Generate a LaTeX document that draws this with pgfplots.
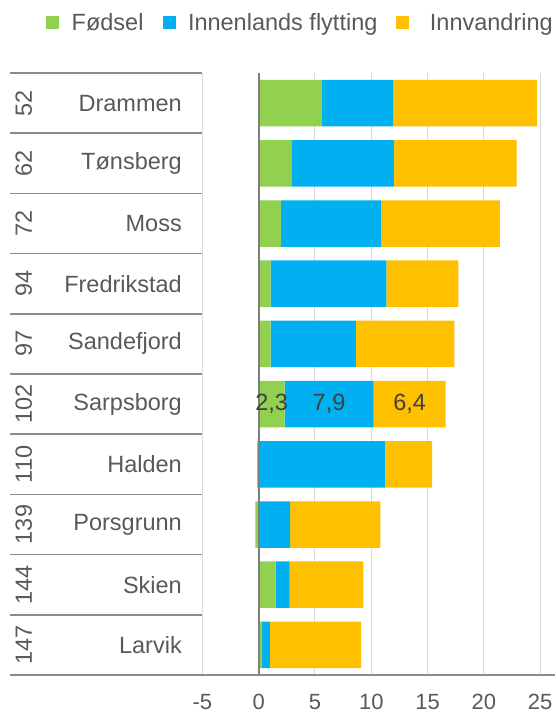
\documentclass[border=0pt]{standalone}
\usepackage{fontspec}
\setmainfont{Liberation Sans}
\usepackage{pgfplots}
\pgfplotsset{compat=1.18}
\definecolor{cgreen}{HTML}{92D050}
\definecolor{cblue}{HTML}{00B0F0}
\definecolor{cyellow}{HTML}{FFC000}
\definecolor{ctext}{HTML}{595959}
\definecolor{clabel}{HTML}{404040}
\definecolor{cgrid}{HTML}{D9D9D9}
\definecolor{cline}{HTML}{8C8C8C}
\definecolor{caxis}{HTML}{7F7F7F}
\begin{document}
\begin{tikzpicture}[font=\fontsize{23.5}{28}\selectfont, text=ctext]
\path[use as bounding box] (0,0) rectangle (555pt,713pt);
\begin{axis}[
  at={(202.4pt,38pt)}, anchor=south west,
  scale only axis, width=337.8pt, height=602pt,
  xmin=-5, xmax=25, ymin=-0.5, ymax=9.5, y dir=reverse,
  xbar stacked, bar width=46.5pt,
  xtick={-5,0,5,10,15,20,25},
  xticklabels={-5,0,5,10,15,20,25},
  ytick={0,1,2,3,4,5,6,7,8,9},
  yticklabels={Drammen,Tønsberg,Moss,Fredrikstad,Sandefjord,Sarpsborg,Halden,Porsgrunn,Skien,Larvik},
  xmajorgrids, grid style={cgrid, line width=1pt},
  axis line style={draw=none}, major tick style={draw=none},
  yticklabel style={font=\fontsize{23.5}{28}\selectfont, text=ctext, anchor=east, inner sep=0pt, xshift=-20.4pt},
  xticklabel style={font=\fontsize{22}{26}\selectfont, text=ctext, anchor=north, inner sep=0pt, yshift=-19pt},
  clip=false,
  legend columns=3,
  legend style={at={(-0.463,1.0839)}, anchor=west, draw=none, fill=none,
    inner sep=0pt, font=\fontsize{23.5}{28}\selectfont, text=ctext,
    /tikz/every odd column/.append style={column sep=12.5pt},
    /tikz/every even column/.append style={column sep=19pt},
    nodes={inner sep=0pt}},
  legend image code/.code={\fill[#1,draw=none] (0pt,-6.5pt) rectangle (13pt,6.5pt);},
]
\addplot[fill=cgreen, draw=none] coordinates {(5.6,0) (2.9,1) (1.96,2) (1.07,3) (1.07,4) (2.3,5) (-0.15,6) (-0.3,7) (1.5,8) (0.3,9)};
\addplot[fill=cblue, draw=none] coordinates {(6.35,0) (9.1,1) (8.9,2) (10.28,3) (7.56,4) (7.9,5) (11.2,6) (2.8,7) (1.25,8) (0.7,9)};
\addplot[fill=cyellow, draw=none] coordinates {(12.77,0) (10.9,1) (10.55,2) (6.38,3) (8.75,4) (6.4,5) (4.2,6) (8.0,7) (6.55,8) (8.1,9)};
\legend{Fødsel, Innenlands flytting, \hspace{8pt}Innvandring}
\coordinate (z0) at (axis cs:0,-0.5);
\coordinate (z1) at (axis cs:0,9.5);
\coordinate (la) at (axis cs:1.15,5);
\coordinate (lb) at (axis cs:6.25,5);
\coordinate (lc) at (axis cs:13.4,5);
% table row separators
\pgfplotsinvokeforeach{-0.5,0.5,1.5,2.5,3.5,4.5,5.5,6.5,7.5,8.5}{
  \draw[cline, line width=1.5pt] (axis cs:-22.1,#1) -- (axis cs:-5,#1);
}
\draw[cline, line width=1.5pt] (axis cs:-22.1,9.5) -- (axis cs:26.35,9.5);
% rank numbers
\node[rotate=90] at (axis cs:-20.87,0) {52};
\node[rotate=90] at (axis cs:-20.87,1) {62};
\node[rotate=90] at (axis cs:-20.87,2) {72};
\node[rotate=90] at (axis cs:-20.87,3) {94};
\node[rotate=90] at (axis cs:-20.87,4) {97};
\node[rotate=90] at (axis cs:-20.87,5) {102};
\node[rotate=90] at (axis cs:-20.87,6) {110};
\node[rotate=90] at (axis cs:-20.87,7) {139};
\node[rotate=90] at (axis cs:-20.87,8) {144};
\node[rotate=90] at (axis cs:-20.87,9) {147};
\end{axis}
\draw[caxis, line width=2pt] (z0) -- (z1);
\node[text=clabel] at (la) {2,3};
\node[text=clabel] at (lb) {7,9};
\node[text=clabel] at (lc) {6,4};
\end{tikzpicture}
\end{document}
